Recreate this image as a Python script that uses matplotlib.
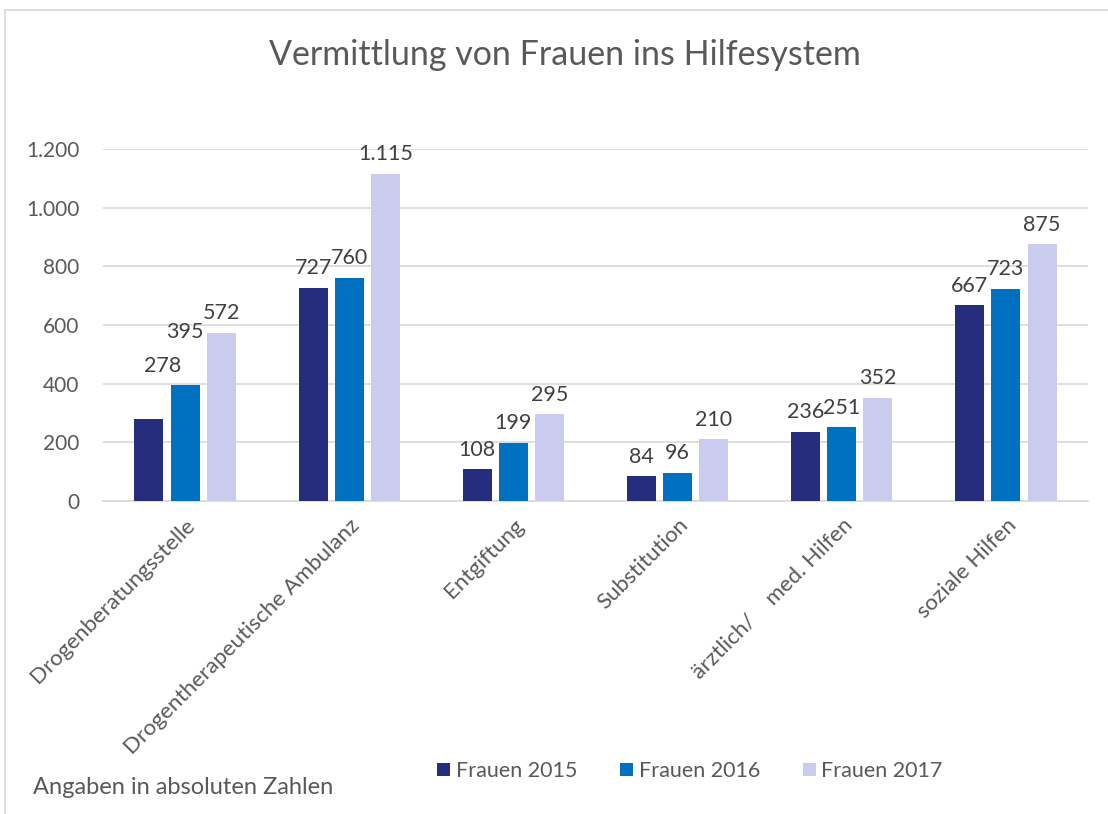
import matplotlib
matplotlib.use("Agg")
import matplotlib.pyplot as plt
import numpy as np
from matplotlib.patches import Rectangle

categories = ["Drogenberatungsstelle", "Drogentherapeutische Ambulanz", "Entgiftung",
              "Substitution", "ärztlich/    med. Hilfen", "soziale Hilfen"]
series_names = ["Frauen 2015", "Frauen 2016", "Frauen 2017"]
frauen_2015 = [278, 727, 108, 84, 236, 667]
frauen_2016 = [395, 760, 199, 96, 251, 723]
frauen_2017 = [572, 1115, 295, 210, 352, 875]
yticks = [0, 200, 400, 600, 800, 1000, 1200]

colors = ["#252D7C", "#0070C0", "#C9CCEE"]
font = "Lato"
plt.rcParams["font.family"] = [font, "DejaVu Sans"]

def de_fmt(v):
    return f"{int(v):,}".replace(",", ".")

fig = plt.figure(figsize=(11.08, 8.14), dpi=100)
ax = fig.add_axes([103/1108, 1 - 501/814, 985/1108, 352/814])

x = np.arange(len(categories))
width = 0.177
step = 0.22
series = [frauen_2015, frauen_2016, frauen_2017]
for i, (vals, name, c) in enumerate(zip(series, series_names, colors)):
    pos = x + (i - 1) * step
    ax.bar(pos, vals, width, color=c, label=name, zorder=3)
    for j, (p, v) in enumerate(zip(pos, vals)):
        dy = 7
        dx = 0
        if j == 0 and i < 2:
            dy = 31
            dx = 10 if i == 0 else 0
        ax.annotate(de_fmt(v), (p, v), xytext=(dx, dy), textcoords="offset points",
                    ha="center", va="bottom", fontsize=15.5, color="#404040")

ax.set_xlim(-0.5, len(categories) - 0.5)
ax.set_ylim(0, 1200)
ax.set_yticks(yticks)
ax.set_yticklabels([de_fmt(v) for v in yticks], fontsize=15, color="#595959")
ax.set_xticks(x)
ax.set_xticklabels(categories, rotation=45, ha="right", va="top",
                   rotation_mode="anchor", fontsize=16, color="#595959")
ax.tick_params(axis="both", length=0)
ax.tick_params(axis="y", pad=17)
ax.tick_params(axis="x", pad=10)
ax.grid(axis="y", color="#D9D9D9", linewidth=1.2, zorder=0)
for s in ["top", "right", "left"]:
    ax.spines[s].set_visible(False)
ax.spines["bottom"].set_color("#D9D9D9")
ax.spines["bottom"].set_linewidth(1.2)

fig.text(565/1108, 1 - 55/814, "Vermittlung von Frauen ins Hilfesystem",
         ha="center", va="center", fontsize=24.5, color="#595959")
fig.text(33/1108, 1 - 787/814, "Angaben in absoluten Zahlen",
         ha="left", va="center", fontsize=17, color="#595959")

leg = fig.legend(loc="center", bbox_to_anchor=(690/1108, 1 - 771/814), ncol=3,
                 frameon=False, fontsize=15.5, handlelength=0.6, handleheight=0.6,
                 handletextpad=0.25, columnspacing=2.0)
for t in leg.get_texts():
    t.set_color("#595959")

fig.patches.append(Rectangle((5/1108, -0.1), 1.2, 1 - 10/814 + 0.1,
                             transform=fig.transFigure, fill=False,
                             edgecolor="#D9D9D9", linewidth=1.2))

fig.savefig("out.png", dpi=100)
